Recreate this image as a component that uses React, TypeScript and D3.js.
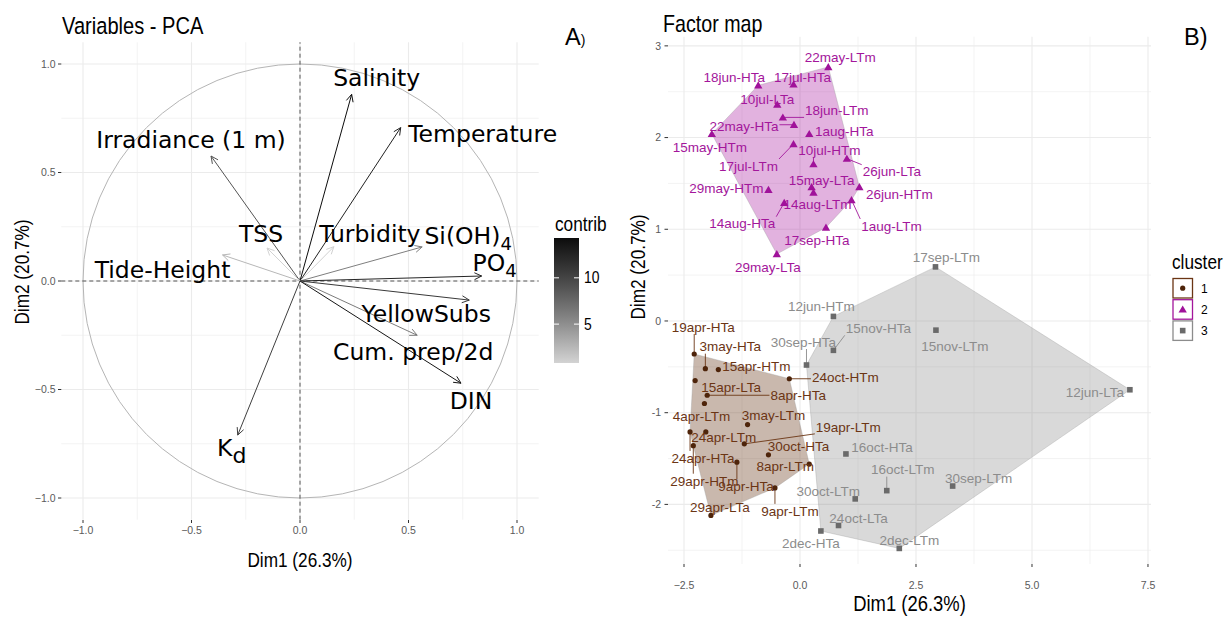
import React from "react";
import * as d3 from "d3";

const W = 1231;
const H = 617;

// ---------- Panel A: variables ----------
const varNames = ["Salinity", "Temperature", "Irradiance (1 m)", "TSS", "Tide-Height", "Turbidity", "Si(OH)4", "PO4", "YellowSubs", "Cum. prep/2d", "DIN", "Kd"];
const varDim1 = [0.238, 0.464, -0.41, -0.152, -0.357, 0.156, 0.563, 0.837, 0.78, 0.54, 0.742, -0.287];
const varDim2 = [0.86, 0.707, 0.576, 0.152, 0.12, 0.158, 0.157, 0.023, -0.088, -0.25, -0.471, -0.71];
const varContrib = [14.3, 12.7, 8.9, 0.8, 2.5, 0.9, 6.1, 12.4, 10.9, 6.3, 13.7, 10.4];

const axisTicksA = [-1, -0.5, 0, 0.5, 1];
const minorTicksA = [-0.75, -0.25, 0.25, 0.75];
const contribTicks = [5, 10];

// ---------- Panel B: individuals ----------
const indNames = [
  "22may-LTm", "18jun-HTa", "17jul-HTa", "10jul-LTa", "18jun-LTm", "22may-HTa", "1aug-HTa", "15may-HTm", "17jul-LTm", "10jul-HTm",
  "26jun-LTa", "26jun-HTm", "15may-LTa", "14aug-LTm", "29may-HTm", "14aug-HTa", "1aug-LTm", "17sep-HTa", "29may-LTa",
  "19apr-HTa", "3may-HTa", "15apr-HTm", "24oct-HTm", "15apr-LTa", "8apr-HTa", "4apr-LTm", "3may-LTm", "24apr-LTm", "19apr-LTm",
  "24apr-HTa", "29apr-HTm", "30oct-HTa", "8apr-LTm", "9apr-HTa", "9apr-LTm", "29apr-LTa",
  "12jun-HTm", "15nov-HTa", "30sep-HTa", "16oct-HTa", "16oct-LTm", "30oct-LTm", "24oct-LTa", "2dec-HTa", "2dec-LTm",
  "17sep-LTm", "15nov-LTm", "12jun-LTa", "30sep-LTm",
];
const indDim1 = [
  0.61, -0.90, -0.14, -0.49, -0.37, -0.13, 0.20, -1.90, -0.14, 0.29,
  1.01, 1.28, 0.25, 0.29, -0.68, -0.34, 1.11, 0.56, -0.50,
  -2.28, -2.04, -1.76, -0.23, -2.26, -2.00, -2.06, -1.13, -2.03, -1.20,
  -2.37, -2.30, -0.68, 0.20, -1.36, -0.54, -1.92,
  0.72, 0.72, 0.14, 0.99, 1.87, 1.19, 0.83, 0.45, 2.14,
  2.92, 2.93, 7.11, 3.29,
];
const indDim2 = [
  2.77, 2.57, 2.58, 2.36, 2.22, 2.14, 2.04, 2.04, 1.93, 1.71,
  1.77, 1.46, 1.46, 1.40, 1.43, 1.29, 1.32, 1.02, 0.73,
  -0.36, -0.52, -0.53, -0.63, -0.65, -0.81, -0.90, -1.13, -1.21, -1.34,
  -1.21, -1.36, -1.46, -1.56, -1.54, -1.82, -2.12,
  0.05, -0.32, -0.48, -1.45, -1.85, -1.94, -2.23, -2.29, -2.48,
  0.59, -0.10, -0.75, -1.80,
];
const indCluster = [
  2, 2, 2, 2, 2, 2, 2, 2, 2, 2,
  2, 2, 2, 2, 2, 2, 2, 2, 2,
  1, 1, 1, 1, 1, 1, 1, 1, 1, 1,
  1, 1, 1, 1, 1, 1, 1,
  3, 3, 3, 3, 3, 3, 3, 3, 3,
  3, 3, 3, 3,
];
const clusterIds = [1, 2, 3];

const axisTicksBx = [-2.5, 0, 2.5, 5, 7.5];
const minorTicksBx = [-1.25, 1.25, 3.75, 6.25];
const axisTicksBy = [-2, -1, 0, 1, 2, 3];
const minorTicksBy = [-2.5, -1.5, -0.5, 0.5, 1.5, 2.5];

// ---------- layout (pixel offsets of labels from their anchors) ----------
const varLabelOffset: Record<string, [number, number]> = {
  "Salinity": [25, -17],
  "Temperature": [82, 6],
  "Irradiance (1 m)": [-20, -16],
  "TSS": [-6, -14],
  "Tide-Height": [-60, 15],
  "Turbidity": [36, -13],
  "Si(OH)4": [46, -11],
  "PO4": [13, -13],
  "YellowSubs": [-43, 13],
  "Cum. prep/2d": [-4, 16],
  "DIN": [10, 17],
  "Kd": [-6, 12],
};

const indLabelOffset: Record<string, [number, number, boolean]> = {
  "22may-LTm": [12, -10, false],
  "18jun-HTa": [-24, -8, false],
  "17jul-HTa": [9, -7, false],
  "10jul-LTa": [-10, -5, false],
  "18jun-LTm": [54, -7, true],
  "22may-HTa": [-50, 1, true],
  "1aug-HTa": [35, -3, false],
  "15may-HTm": [-2, 13, false],
  "17jul-LTm": [-45, 22, true],
  "10jul-HTm": [16, -14, true],
  "26jun-LTa": [45, 13, true],
  "26jun-HTm": [40, 7, false],
  "15may-LTa": [10, -7, false],
  "14aug-LTm": [4, 12, false],
  "29may-HTm": [-42, -2, false],
  "14aug-HTa": [-42, 21, true],
  "1aug-LTm": [40, 26, true],
  "17sep-HTa": [-9, 13, false],
  "29may-LTa": [-9, 13, false],
  "19apr-HTa": [9, -27, true],
  "3may-HTa": [25, -22, true],
  "15apr-HTm": [38, -3, false],
  "24oct-HTm": [56, -2, true],
  "15apr-LTa": [36, 7, false],
  "8apr-HTa": [91, 0, true],
  "4apr-LTm": [-3, 13, false],
  "3may-LTm": [26, -9, false],
  "24apr-LTm": [18, 5, false],
  "19apr-LTm": [104, -17, true],
  "24apr-HTa": [13, 26, true],
  "29apr-HTm": [11, 35, true],
  "30oct-HTa": [30, -9, false],
  "8apr-LTm": [-24, 2, false],
  "9apr-HTa": [9, 24, true],
  "9apr-LTm": [15, 23, true],
  "29apr-LTa": [9, -8, false],
  "12jun-HTm": [-12, -10, false],
  "15nov-HTa": [45, -22, true],
  "30sep-HTa": [-3, -23, true],
  "16oct-HTa": [36, -7, false],
  "16oct-LTm": [16, -21, true],
  "30oct-LTm": [-27, -8, false],
  "24oct-LTa": [20, -7, false],
  "2dec-HTa": [-10, 12, false],
  "2dec-LTm": [10, -8, false],
  "17sep-LTm": [11, -10, false],
  "15nov-LTm": [19, 16, false],
  "12jun-LTa": [-35, 2, false],
  "30sep-LTm": [26, -8, false],
};

const SANS = "'Liberation Sans', Arial, sans-serif";
const VARFONT = "'DejaVu Sans', Verdana, sans-serif";

const clusterLabelColor: Record<number, string> = { 1: "#6b3514", 2: "#a3169b", 3: "#8c8c8c" };
const clusterPointColor: Record<number, string> = { 1: "#4e240a", 2: "#a0129a", 3: "#6a6a6a" };
const clusterHullColor: Record<number, string> = { 1: "#6a3a1c", 2: "#a6149e", 3: "#8c8c8c" };
const clusterHullOpacity: Record<number, number> = { 1: 0.36, 2: 0.33, 3: 0.33 };

function measure(text: string, font: string): number {
  const c = document.createElement("canvas").getContext("2d");
  if (!c) return text.length * 7;
  c.font = font;
  return c.measureText(text).width;
}

// condensed text (Arial-Narrow look) made by a horizontal squeeze
function NText({ x, y, size, anchor = "start", rotate = 0, children }: { x: number; y: number; size: number; anchor?: string; rotate?: number; children: React.ReactNode }) {
  return (
    <text transform={`translate(${x},${y}) rotate(${rotate}) scale(0.82,1)`} textAnchor={anchor} fontFamily={SANS} fontSize={size} fill="#000">
      {children}
    </text>
  );
}

function VarLabel({ name, x, y }: { name: string; x: number; y: number }) {
  const fs = 23.5;
  const sub = (t: string) => (
    <tspan fontSize={18} dy={6}>{t}</tspan>
  );
  let content: React.ReactNode = name;
  if (name === "Si(OH)4") content = <>{"Si(OH)"}{sub("4")}</>;
  else if (name === "PO4") content = <>{"PO"}{sub("4")}</>;
  else if (name === "Kd") content = <>{"K"}<tspan fontSize={22} dy={7}>d</tspan></>;
  return (
    <text x={x} y={y + fs * 0.36} textAnchor="middle" fontFamily={VARFONT} fontSize={fs} fill="#000">
      {content}
    </text>
  );
}

function PointShape({ c, x, y }: { c: number; x: number; y: number }) {
  const col = clusterPointColor[c];
  if (c === 1) return <circle cx={x} cy={y} r={2.6} fill={col} />;
  if (c === 2) {
    const p = d3.symbol(d3.symbolTriangle, 30)() || "";
    return <path d={p} transform={`translate(${x},${y + 0.8})`} fill={col} />;
  }
  return <rect x={x - 2.8} y={y - 2.8} width={5.6} height={5.6} fill={col} />;
}

export default function App() {
  // ---- Panel A scales ----
  const xA = d3.scaleLinear().domain([-1.1, 1.1]).range([61.3, 538.7]);
  const yA = d3.scaleLinear().domain([-1.1, 1.1]).range([519.7, 42.3]);
  const cMin = d3.min(varContrib) as number;
  const cMax = d3.max(varContrib) as number;
  const colA = d3.scaleLinear<string>().domain([cMin, cMax]).range(["#d3d3d3", "#0c0c0c"]).interpolate(d3.interpolateLab);
  const barTop = 238;
  const barBot = 363;
  const yBar = d3.scaleLinear().domain([cMin, cMax]).range([barBot, barTop]);

  // ---- Panel B scales ----
  const xB = d3.scaleLinear().domain([-2.845, 7.565]).range([668, 1151]);
  const yB = d3.scaleLinear().domain([-2.65, 3.1]).range([564, 36.7]);

  const indFont = `13.5px ${SANS}`;

  const hulls = clusterIds.map((c) => {
    const pts: [number, number][] = [];
    indNames.forEach((_, i) => {
      if (indCluster[i] === c) pts.push([xB(indDim1[i]), yB(indDim2[i])]);
    });
    const hull = d3.polygonHull(pts) || [];
    return { c, d: "M" + hull.map((p) => p.join(",")).join("L") + "Z" };
  });

  const gridCol = "#ebebeb";

  return (
    <svg width={W} height={H} viewBox={`0 0 ${W} ${H}`} style={{ position: "absolute", left: 0, top: 0, background: "#fff" }}>
      <rect width={W} height={H} fill="#fff" />
      <defs>
        <linearGradient id="contribGrad" x1="0" y1="1" x2="0" y2="0">
          {d3.range(0, 1.0001, 0.1).map((t) => (
            <stop key={t} offset={t} stopColor={colA(cMin + t * (cMax - cMin))} />
          ))}
        </linearGradient>
      </defs>

      {/* ================= Panel A ================= */}
      <NText x={62} y={34} size={24.5}>Variables - PCA</NText>
      <text x={565} y={45} fontFamily={SANS} fontSize={23.5} fill="#000">A<tspan fontSize={14}>)</tspan></text>

      {/* grid */}
      {minorTicksA.map((t) => (
        <g key={"mA" + t}>
          <line x1={xA(t)} x2={xA(t)} y1={yA(-1.1)} y2={yA(1.1)} stroke={gridCol} strokeWidth={0.6} />
          <line x1={xA(-1.1)} x2={xA(1.1)} y1={yA(t)} y2={yA(t)} stroke={gridCol} strokeWidth={0.6} />
        </g>
      ))}
      {axisTicksA.map((t) => (
        <g key={"gA" + t}>
          <line x1={xA(t)} x2={xA(t)} y1={yA(-1.1)} y2={yA(1.1)} stroke={gridCol} strokeWidth={1.1} />
          <line x1={xA(-1.1)} x2={xA(1.1)} y1={yA(t)} y2={yA(t)} stroke={gridCol} strokeWidth={1.1} />
        </g>
      ))}
      {/* circle */}
      <ellipse cx={xA(0)} cy={yA(0)} rx={xA(1) - xA(0)} ry={yA(0) - yA(1)} fill="none" stroke="#b5b5b5" strokeWidth={1} />
      {/* dashed zero lines */}
      <line x1={xA(0)} x2={xA(0)} y1={yA(-1.1)} y2={yA(1.1)} stroke="#555" strokeWidth={1} strokeDasharray="4,3" />
      <line x1={xA(-1.1)} x2={xA(1.1)} y1={yA(0)} y2={yA(0)} stroke="#555" strokeWidth={1} strokeDasharray="4,3" />

      {/* arrows */}
      {varNames.map((n, i) => {
        const x0 = xA(0), y0 = yA(0);
        const x1 = xA(varDim1[i]), y1 = yA(varDim2[i]);
        const ang = Math.atan2(y1 - y0, x1 - x0);
        const ah = 8, aa = Math.PI / 7;
        const d = `M${x0},${y0}L${x1},${y1}M${x1 - ah * Math.cos(ang - aa)},${y1 - ah * Math.sin(ang - aa)}L${x1},${y1}L${x1 - ah * Math.cos(ang + aa)},${y1 - ah * Math.sin(ang + aa)}`;
        return <path key={"ar" + n} d={d} fill="none" stroke={colA(varContrib[i])} strokeWidth={1} />;
      })}
      {varNames.map((n, i) => {
        const off = varLabelOffset[n];
        return <VarLabel key={"vl" + n} name={n} x={xA(varDim1[i]) + off[0]} y={yA(varDim2[i]) + off[1]} />;
      })}

      {/* axes ticks */}
      {axisTicksA.map((t) => (
        <g key={"tA" + t}>
          <line x1={xA(t)} x2={xA(t)} y1={520} y2={523} stroke="#333" strokeWidth={1} />
          <text x={xA(t)} y={534} textAnchor="middle" fontFamily={SANS} fontSize={10.5} fill="#5a5a5a">{d3.format(".1f")(t)}</text>
          <line x1={58} x2={61.3} y1={yA(t)} y2={yA(t)} stroke="#333" strokeWidth={1} />
          <text x={55.5} y={yA(t) + 3.7} textAnchor="end" fontFamily={SANS} fontSize={10.5} fill="#5a5a5a">{d3.format(".1f")(t)}</text>
        </g>
      ))}
      <NText x={300} y={567} size={21} anchor="middle">Dim1 (26.3%)</NText>
      <NText x={29} y={272} size={21} anchor="middle" rotate={-90}>Dim2 (20.7%)</NText>

      {/* contrib legend */}
      <NText x={555} y={231} size={21}>contrib</NText>
      <rect x={554} y={barTop} width={25} height={barBot - barTop} fill="url(#contribGrad)" />
      {contribTicks.map((t) => (
        <g key={"ct" + t}>
          <line x1={554} x2={559} y1={yBar(t)} y2={yBar(t)} stroke="#fff" strokeWidth={1} />
          <line x1={574} x2={579} y1={yBar(t)} y2={yBar(t)} stroke="#fff" strokeWidth={1} />
          <NText x={584} y={yBar(t) + 5.5} size={17}>{t}</NText>
        </g>
      ))}

      {/* ================= Panel B ================= */}
      <NText x={663} y={32} size={24}>Factor map</NText>
      <text x={1184} y={45} fontFamily={SANS} fontSize={23.5} fill="#000">B)</text>

      {minorTicksBx.map((t) => (
        <line key={"mBx" + t} x1={xB(t)} x2={xB(t)} y1={yB(-2.65)} y2={yB(3.1)} stroke={gridCol} strokeWidth={0.6} />
      ))}
      {minorTicksBy.map((t) => (
        <line key={"mBy" + t} x1={xB(-2.845)} x2={xB(7.565)} y1={yB(t)} y2={yB(t)} stroke={gridCol} strokeWidth={0.6} />
      ))}
      {axisTicksBx.map((t) => (
        <line key={"gBx" + t} x1={xB(t)} x2={xB(t)} y1={yB(-2.65)} y2={yB(3.1)} stroke={gridCol} strokeWidth={1.1} />
      ))}
      {axisTicksBy.map((t) => (
        <line key={"gBy" + t} x1={xB(-2.845)} x2={xB(7.565)} y1={yB(t)} y2={yB(t)} stroke={gridCol} strokeWidth={1.1} />
      ))}

      {/* hulls */}
      {hulls.map((h) => (
        <path key={"h" + h.c} d={h.d} fill={clusterHullColor[h.c]} fillOpacity={clusterHullOpacity[h.c]} stroke="#9a9a9a" strokeOpacity={0.5} strokeWidth={0.7} />
      ))}

      {/* segments */}
      {indNames.map((n, i) => {
        const off = indLabelOffset[n];
        if (!off || !off[2]) return null;
        const px = xB(indDim1[i]), py = yB(indDim2[i]);
        const cx = px + off[0], cy = py + off[1];
        const w = measure(n, indFont) / 2 + 1;
        const h = 7;
        const ex = Math.max(cx - w, Math.min(cx + w, px));
        const ey = Math.max(cy - h, Math.min(cy + h, py));
        return <line key={"sg" + n} x1={px} y1={py} x2={ex} y2={ey} stroke={clusterLabelColor[indCluster[i]]} strokeWidth={0.9} />;
      })}

      {/* points */}
      {indNames.map((n, i) => (
        <PointShape key={"pt" + n} c={indCluster[i]} x={xB(indDim1[i])} y={yB(indDim2[i])} />
      ))}

      {/* labels */}
      {indNames.map((n, i) => {
        const off = indLabelOffset[n] || [0, -10, false];
        return (
          <text key={"il" + n} x={xB(indDim1[i]) + off[0]} y={yB(indDim2[i]) + off[1] + 4.8} textAnchor="middle" fontFamily={SANS} fontSize={13.5} fill={clusterLabelColor[indCluster[i]]}>
            {n}
          </text>
        );
      })}

      {/* axes B */}
      {axisTicksBx.map((t) => (
        <g key={"tBx" + t}>
          <line x1={xB(t)} x2={xB(t)} y1={564} y2={567} stroke="#333" strokeWidth={1} />
          <text x={xB(t)} y={589} textAnchor="middle" fontFamily={SANS} fontSize={10.5} fill="#5a5a5a">{d3.format(".1f")(t)}</text>
        </g>
      ))}
      {axisTicksBy.map((t) => (
        <g key={"tBy" + t}>
          <line x1={664.5} x2={668} y1={yB(t)} y2={yB(t)} stroke="#333" strokeWidth={1} />
          <text x={661} y={yB(t) + 3.7} textAnchor="end" fontFamily={SANS} fontSize={10.5} fill="#5a5a5a">{t}</text>
        </g>
      ))}
      <NText x={909.5} y={611} size={22.5} anchor="middle">Dim1 (26.3%)</NText>
      <NText x={645} y={267} size={21} anchor="middle" rotate={-90}>Dim2 (20.7%)</NText>

      {/* cluster legend */}
      <NText x={1172} y={269} size={21}>cluster</NText>
      {clusterIds.map((c, k) => {
        const y0 = 278.5 + k * 21.2;
        return (
          <g key={"lg" + c}>
            <rect x={1173} y={y0} width={19.5} height={19.5} fill="#fff" stroke={clusterLabelColor[c]} strokeWidth={1.3} />
            <PointShape c={c} x={1182.7} y={y0 + 9.7} />
            <text x={1201} y={y0 + 14} fontFamily={SANS} fontSize={12} fill="#000">{c}</text>
          </g>
        );
      })}
    </svg>
  );
}
